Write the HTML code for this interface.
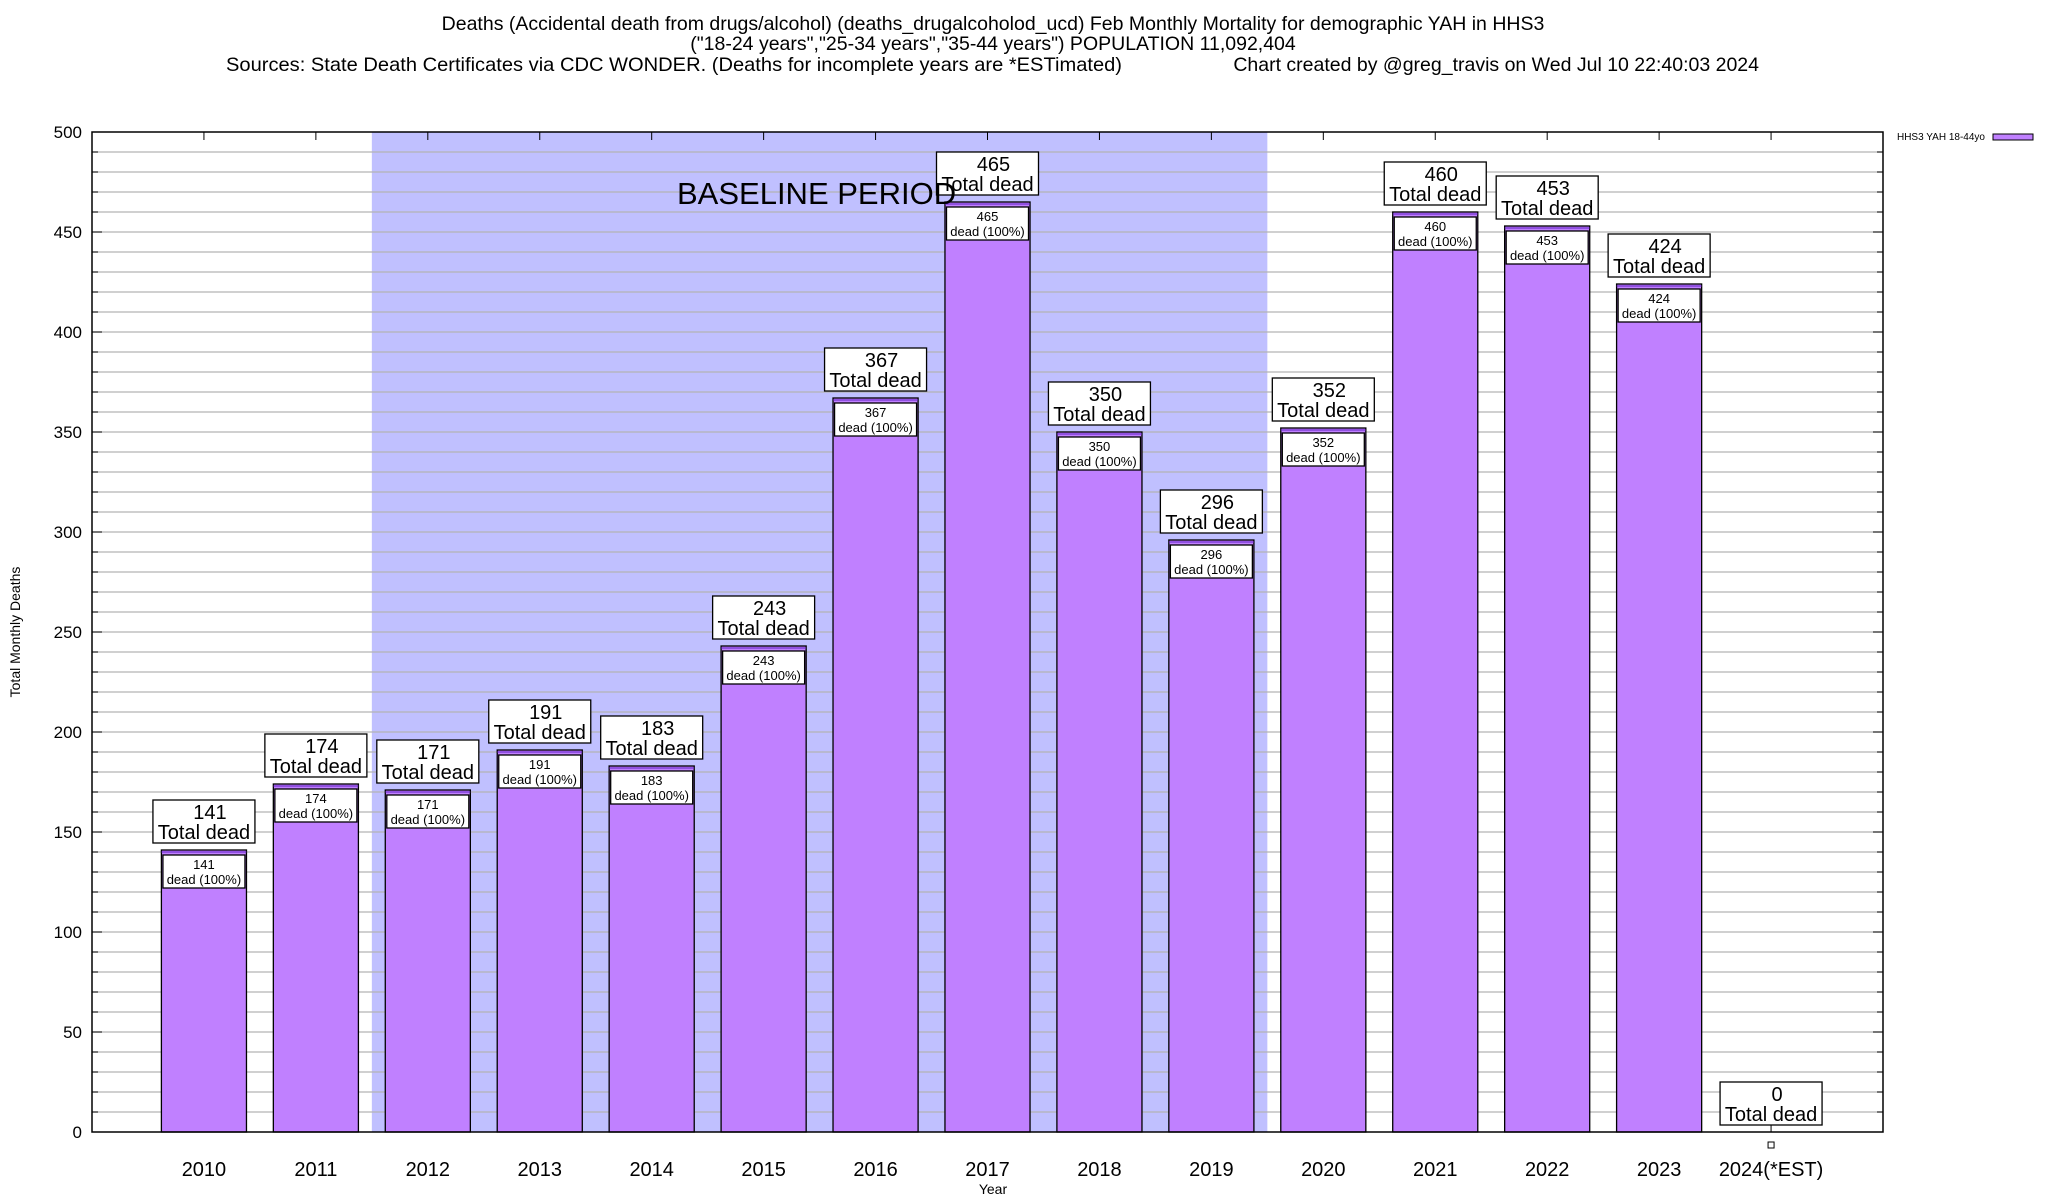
<!DOCTYPE html>
<html><head><meta charset="utf-8">
<style>
html,body{margin:0;padding:0;background:#fff;}
svg{display:block;font-family:"Liberation Sans",Arial,sans-serif;}
</style></head>
<body>
<svg id="chart" width="2048" height="1200" viewBox="0 0 2048 1200" xmlns="http://www.w3.org/2000/svg">
  <g font-size="19.5" text-anchor="middle" fill="#000">
    <text x="993" y="30">Deaths (Accidental death from drugs/alcohol) (deaths_drugalcoholod_ucd) Feb Monthly Mortality for demographic YAH in HHS3</text>
    <text x="993" y="50">("18-24 years","25-34 years","35-44 years") POPULATION 11,092,404</text>
    <text x="226" y="71" text-anchor="start" textLength="896" lengthAdjust="spacingAndGlyphs">Sources: State Death Certificates via CDC WONDER. (Deaths for incomplete years are *ESTimated)</text>
    <text x="1759" y="71" text-anchor="end">Chart created by @greg_travis on Wed Jul 10 22:40:03 2024</text>
  </g>
  <g id="plot"></g>
</svg>
<script>
const categories = ["2010","2011","2012","2013","2014","2015","2016","2017","2018","2019","2020","2021","2022","2023","2024(*EST)"];
const deaths = [141,174,171,191,183,243,367,465,350,296,352,460,453,424,0];
const yTicks = [0,50,100,150,200,250,300,350,400,450,500];
const baselineStart = 1.5, baselineEnd = 9.5;

const L=92,R=1883,T=132,B=1132;
const slot=(R-L)/16;
const xs=i=>L+slot*(i+1);
const ys=v=>B-(v/500)*(B-T);
const NS="http://www.w3.org/2000/svg";
const plot=document.getElementById('plot');
function mk(tag,attrs,parent){const e=document.createElementNS(NS,tag);for(const k in attrs)e.setAttribute(k,attrs[k]);(parent||plot).appendChild(e);return e;}

const shade=mk('rect',{x:xs(baselineStart),y:T,width:xs(baselineEnd)-xs(baselineStart),height:B-T,fill:'#c0c0ff'});



for(let v=10;v<500;v+=10){
  const g=mk('line',{x1:L,x2:R,y1:ys(v),y2:ys(v),stroke:'#b4b4b4','stroke-width':1.2});
  
  
  mk('line',{x1:L,x2:L+6,y1:ys(v),y2:ys(v),stroke:'#000','stroke-width':1});
  mk('line',{x1:R-6,x2:R,y1:ys(v),y2:ys(v),stroke:'#000','stroke-width':1});
}
yTicks.forEach(v=>{
  mk('line',{x1:L,x2:L+10,y1:ys(v),y2:ys(v),stroke:'#000'});
  mk('line',{x1:R-10,x2:R,y1:ys(v),y2:ys(v),stroke:'#000'});
  const t=mk('text',{x:L-10,y:ys(v)+6,'font-size':17,'text-anchor':'end'});
  t.textContent=v;
  
  
});

const bw=slot*0.76;
categories.forEach((c,i)=>{
  const cx=xs(i),v=deaths[i],top=ys(v);
  mk('line',{x1:cx,x2:cx,y1:T,y2:T+8,stroke:'#000'});
  mk('line',{x1:cx,x2:cx,y1:B,y2:B-8,stroke:'#000'});
  if(v>0){
    const b=mk('rect',{x:cx-bw/2,y:top,width:bw,height:B-top,fill:'#c080ff',stroke:'#000','stroke-width':1.3});
    
    
    mk('line',{x1:cx-bw/2,x2:cx+bw/2,y1:top+2,y2:top+2,stroke:'#6020c0','stroke-width':1});
    const ib=mk('rect',{x:cx-41,y:top+5,width:82,height:33,fill:'#fff',stroke:'#000','stroke-width':1.3});
    
    
    const t1=mk('text',{x:cx,y:top+19,'font-size':13,'text-anchor':'middle'});t1.textContent=v;
    const t2=mk('text',{x:cx,y:top+34,'font-size':13,'text-anchor':'middle'});t2.textContent='dead (100%)';
  } else {
    const m=mk('rect',{x:cx-3,y:B+10,width:6,height:6,fill:'#fff',stroke:'#000'});
    
    
  }
  const ob=mk('rect',{x:cx-51,y:top-50,width:102,height:43,fill:'#fff',stroke:'#000','stroke-width':1.3});
  
  
  const o1=mk('text',{x:cx+6,y:top-31,'font-size':20,'text-anchor':'middle'});o1.textContent=v;
  const o2=mk('text',{x:cx,y:top-11,'font-size':20,'text-anchor':'middle'});o2.textContent='Total dead';
  const xl=mk('text',{x:cx,y:1176,'font-size':20,'text-anchor':'middle'});
  xl.textContent=c;
  
  
});

const bl=mk('text',{x:677,y:204,'font-size':31});
bl.textContent='BASELINE PERIOD';



const frame=mk('rect',{x:L,y:T,width:R-L,height:B-T,fill:'none',stroke:'#000','stroke-width':1.5});



const xt=mk('text',{x:993,y:1194,'font-size':14,'text-anchor':'middle'});
xt.textContent='Year';


const yt=mk('text',{x:0,y:0,'font-size':14,'text-anchor':'middle',transform:'translate(20,632) rotate(-90)'});
yt.textContent='Total Monthly Deaths';



const lg=mk('g',{});


const lt=mk('text',{x:1985,y:140,'font-size':10,'text-anchor':'end'},lg);lt.textContent='HHS3 YAH 18-44yo';
mk('rect',{x:1993,y:134,width:40,height:6,fill:'#c080ff',stroke:'#000'},lg);
</script>
</body></html>
